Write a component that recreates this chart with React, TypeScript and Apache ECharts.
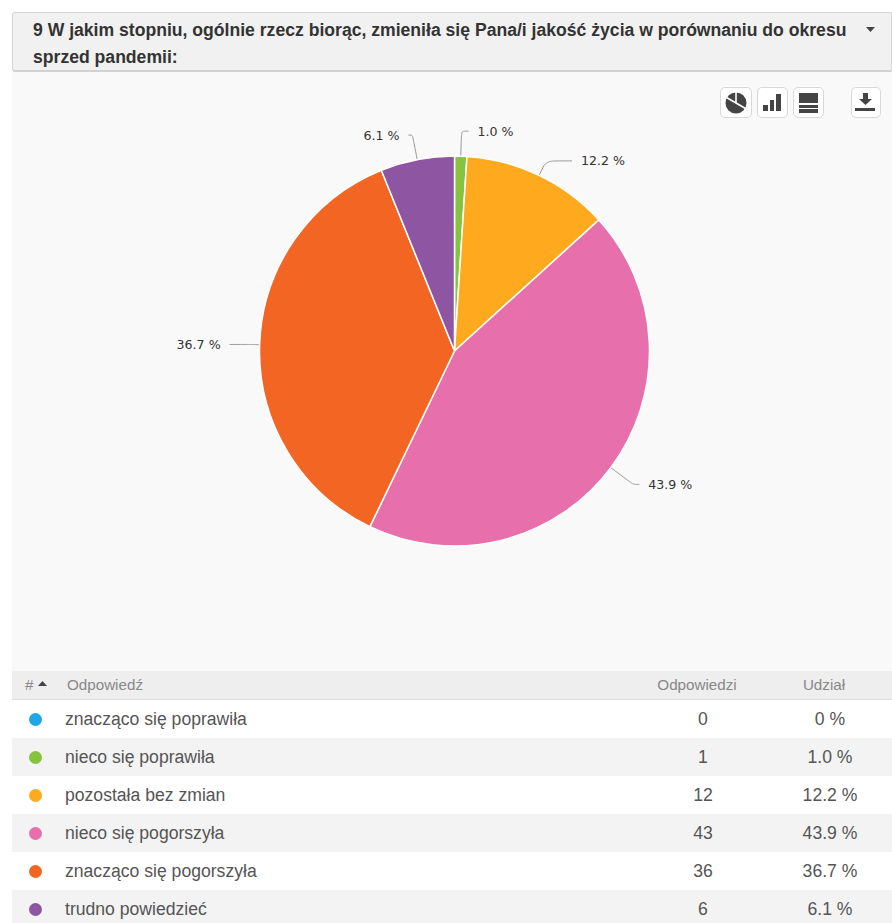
import React, { useEffect, useRef } from "react";
import * as echarts from "echarts";

const questionLines = [
  "9 W jakim stopniu, ogólnie rzecz biorąc, zmieniła się Pana/i jakość życia w porównaniu do okresu",
  "sprzed pandemii:",
];
const answers = [
  "znacząco się poprawiła",
  "nieco się poprawiła",
  "pozostała bez zmian",
  "nieco się pogorszyła",
  "znacząco się pogorszyła",
  "trudno powiedzieć",
];
const counts = [0, 1, 12, 43, 36, 6];
const shares = ["0 %", "1.0 %", "12.2 %", "43.9 %", "36.7 %", "6.1 %"];
const colors = ["#1ea7e4", "#86c440", "#ffa91f", "#e76fab", "#f26522", "#8e55a2"];

const FONT = '"Liberation Sans", Arial, sans-serif';
const rowTops = [700, 738, 776, 814, 852, 890];
const rowHeights = [38, 38, 38, 38, 38, 33];

// Radial and horizontal lengths of each slice's leader line.
const leaders: ([number, number] | null)[] = [null, [25, 7], [16, 26], [28, 6], [9, 21], [25, 4]];

const abs = (left: number, top: number, extra: React.CSSProperties = {}): React.CSSProperties => ({
  position: "absolute",
  left,
  top,
  ...extra,
});

function ToolButton({ left, width, children }: { left: number; width: number; children: React.ReactNode }) {
  return (
    <div
      style={abs(left, 87, {
        width,
        height: 31,
        boxSizing: "border-box",
        background: "#fff",
        border: "1px solid #d8d8d8",
        borderRadius: 5,
      })}
    >
      <svg width={width - 2} height={29} viewBox={`0 0 ${width - 2} 29`} style={{ display: "block" }}>
        {children}
      </svg>
    </div>
  );
}

export default function App() {
  const ref = useRef<HTMLDivElement>(null);

  useEffect(() => {
    document.body.style.margin = "0";
    const chart = echarts.init(ref.current!, undefined, { renderer: "svg" });
    chart.setOption({
      animation: false,
      series: [
        {
          type: "pie",
          center: [454.5, 351],
          radius: 195,
          startAngle: 90,
          clockwise: true,
          avoidLabelOverlap: false,
          itemStyle: { borderColor: "#ffffff", borderWidth: 1.5 },
          label: {
            color: "#333333",
            fontFamily: '"DejaVu Sans", sans-serif',
            fontSize: 12.6,
            distanceToLabelLine: 9,
          },
          labelLine: {
            smooth: 0.25,
            lineStyle: { color: "#999999", width: 1 },
          },
          data: answers.map((name, i) => {
            const leader = leaders[i];
            return {
              name,
              value: counts[i],
              itemStyle: { color: colors[i] },
              label: { show: counts[i] > 0, formatter: shares[i] },
              labelLine: leader ? { show: true, length: leader[0], length2: leader[1] } : { show: false },
            };
          }),
        },
      ],
    });
    return () => chart.dispose();
  }, []);

  return (
    <div style={{ position: "relative", width: 892, height: 923, overflow: "hidden", background: "#fff", fontFamily: FONT }}>
      {/* Panel behind the chart */}
      <div style={abs(12, 72, { width: 880, height: 851, background: "#f9f9f9" })} />

      {/* Question header */}
      <div
        style={abs(12, 12, {
          width: 880,
          height: 60,
          boxSizing: "border-box",
          background: "#f1f1f1",
          border: "1px solid #d6d6d6",
          borderBottom: "2px solid #d2d2d2",
          borderRadius: "3px 0 0 3px",
        })}
      />
      {questionLines.map((line, i) => (
        <div
          key={line}
          style={abs(33, 17 + i * 27, {
            fontSize: 17.6,
            lineHeight: "27px",
            fontWeight: 700,
            color: "#333",
            whiteSpace: "nowrap",
          })}
        >
          {line}
        </div>
      ))}
      <svg width={10} height={6} style={abs(866, 27)}>
        <polygon points="0,0 9,0 4.5,5" fill="#444" />
      </svg>

      {/* Chart view and download buttons */}
      <ToolButton left={720} width={32}>
        <circle cx={15} cy={15} r={10.5} fill="#444" />
        <path d="M15 15 L15 4 M15 15 L24.5 20.5 M15 15 L5.5 9.5" stroke="#fff" strokeWidth={1.6} fill="none" />
      </ToolButton>
      <ToolButton left={757} width={31}>
        <rect x={5} y={17} width={5} height={6} fill="#444" />
        <rect x={12} y={12} width={4} height={11} fill="#444" />
        <rect x={18} y={6} width={5} height={17} fill="#444" />
      </ToolButton>
      <ToolButton left={793} width={31}>
        <rect x={5} y={5} width={19} height={10} fill="#444" />
        <rect x={5} y={17} width={19} height={3} fill="#444" />
        <rect x={5} y={21} width={19} height={4} fill="#444" />
      </ToolButton>
      <ToolButton left={851} width={30}>
        <path d="M11 5 H16 V11 H20 L13.5 17 L7 11 H11 Z" fill="#444" />
        <rect x={3} y={20} width={20} height={3} fill="#444" />
      </ToolButton>

      {/* Pie chart */}
      <div ref={ref} style={abs(0, 0, { width: 892, height: 660 })} />

      {/* Table header */}
      <div style={abs(12, 671, { width: 880, height: 29, boxSizing: "border-box", background: "#eeeeee", borderBottom: "1px solid #dddddd" })} />
      <div style={abs(25, 671, { fontSize: 15.2, lineHeight: "27px", color: "#888" })}>#</div>
      <svg width={10} height={6} style={abs(38, 681)}>
        <polygon points="0,5 9,5 4.5,0" fill="#444" />
      </svg>
      <div style={abs(67, 671, { fontSize: 15.2, lineHeight: "27px", color: "#888" })}>Odpowiedź</div>
      <div style={abs(637, 671, { width: 120, textAlign: "center", fontSize: 15.2, lineHeight: "27px", color: "#888" })}>Odpowiedzi</div>
      <div style={abs(764, 671, { width: 120, textAlign: "center", fontSize: 15.2, lineHeight: "27px", color: "#888" })}>Udział</div>

      {/* Table rows */}
      {answers.map((answer, i) => (
        <React.Fragment key={answer}>
          <div
            style={abs(12, rowTops[i], {
              width: 880,
              height: rowHeights[i],
              background: i % 2 === 0 ? "#ffffff" : "#f3f3f3",
            })}
          />
          <div
            style={abs(29, rowTops[i] + 13, {
              width: 13,
              height: 13,
              borderRadius: "50%",
              background: colors[i],
            })}
          />
          <div style={abs(65, rowTops[i], { fontSize: 17.6, lineHeight: "39px", color: "#555", whiteSpace: "nowrap" })}>{answer}</div>
          <div style={abs(643, rowTops[i], { width: 120, textAlign: "center", fontSize: 17.6, lineHeight: "39px", color: "#555" })}>{counts[i]}</div>
          <div style={abs(770, rowTops[i], { width: 120, textAlign: "center", fontSize: 17.6, lineHeight: "39px", color: "#555" })}>{shares[i]}</div>
        </React.Fragment>
      ))}
    </div>
  );
}
